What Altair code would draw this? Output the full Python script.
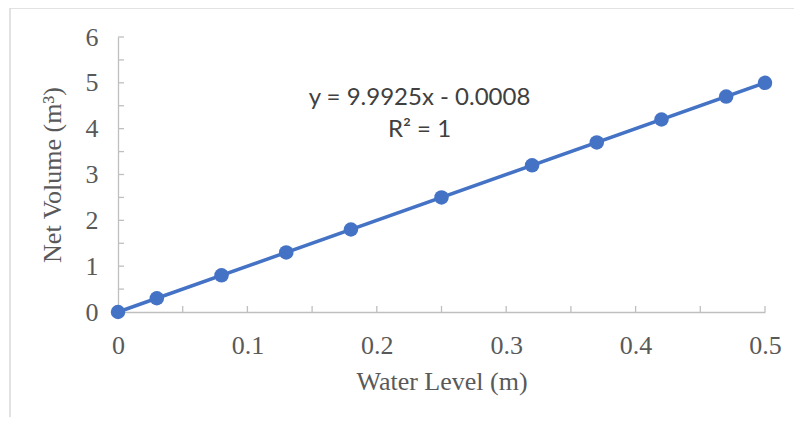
import altair as alt
import pandas as pd

water_level = [0, 0.03, 0.08, 0.13, 0.18, 0.25, 0.32, 0.37, 0.42, 0.47, 0.5]
net_volume = [0, 0.3, 0.8, 1.3, 1.8, 2.5, 3.2, 3.7, 4.2, 4.7, 5.0]

eq_text = ["y = 9.9925x - 0.0008", "R² = 1"]
eq_x = [0.233, 0.233]
eq_y = [4.67, 3.97]

x_ticks = [i * 0.05 for i in range(11)]
y_ticks = [i * 0.5 for i in range(13)]

df = pd.DataFrame({"x": water_level, "y": net_volume})
eq_df = pd.DataFrame({"t": eq_text, "x": eq_x, "y": eq_y})
xt_df = pd.DataFrame({"x": x_ticks})
yt_df = pd.DataFrame({"y": y_ticks})

W, H = 647, 275
BLUE = "#4472C4"
GRID = "#BFBFBF"
LBL = "#595959"
FS = 26

xs = alt.Scale(domain=[0, 0.5], nice=False, zero=False)
ys = alt.Scale(domain=[0, 6], nice=False, zero=False)

xaxis = alt.Axis(values=[0, 0.1, 0.2, 0.3, 0.4, 0.5], format="~g", grid=False,
                 ticks=False, labelPadding=20, labelFlush=False, labelOverlap=False,
                 domainColor=GRID, domainWidth=1.3,
                 labelFont="Liberation Serif", labelFontSize=FS, labelColor=LBL,
                 title="Water Level (m)", titleFont="Liberation Serif", titleFontSize=FS,
                 titleFontWeight="normal", titleColor=LBL, titlePadding=10)
yaxis = alt.Axis(values=[0, 1, 2, 3, 4, 5, 6], format="d", grid=False,
                 ticks=False, labelPadding=20, labelFlush=False, labelOverlap=False,
                 domainColor=GRID, domainWidth=1.3,
                 labelFont="Liberation Serif", labelFontSize=FS, labelColor=LBL,
                 title="Net Volume (m³)", titleFont="Liberation Serif", titleFontSize=FS,
                 titleFontWeight="normal", titleColor=LBL, titlePadding=20)

border = alt.Chart(pd.DataFrame({"a": [0]})).mark_rect(
    fill=None, stroke="#D9D9D9", strokeWidth=1.5
).encode(x=alt.value(-108), x2=alt.value(W + 60), y=alt.value(-29), y2=alt.value(H + 120))

base = alt.Chart(df)
line = base.transform_regression("x", "y", extent=[0, 0.5]).mark_line(
    color=BLUE, strokeWidth=3.5
).encode(x=alt.X("x:Q", scale=xs, axis=xaxis), y=alt.Y("y:Q", scale=ys, axis=yaxis))
pts = base.mark_circle(color=BLUE, opacity=1, size=210).encode(
    x=alt.X("x:Q", scale=xs), y=alt.Y("y:Q", scale=ys))

xt = alt.Chart(xt_df).mark_rule(color=GRID, strokeWidth=1.3).encode(
    x=alt.X("x:Q", scale=xs), y=alt.value(H), y2=alt.value(H - 6))
yt = alt.Chart(yt_df).mark_rule(color=GRID, strokeWidth=1.3).encode(
    y=alt.Y("y:Q", scale=ys), x=alt.value(0), x2=alt.value(6))

eq = alt.Chart(eq_df).mark_text(font="Lato", fontSize=24, color="#404040",
                                align="center", baseline="middle").encode(
    x=alt.X("x:Q", scale=xs), y=alt.Y("y:Q", scale=ys), text="t:N")

chart = alt.layer(border, xt, yt, line, pts, eq).properties(
    width=W, height=H,
    autosize=alt.AutoSizeParams(type="none"),
    padding={"left": 110, "top": 29, "right": 29, "bottom": 105},
).configure(background="white").configure_view(stroke=None)

chart.save("out.html", embed_options={"renderer": "svg", "actions": False})
